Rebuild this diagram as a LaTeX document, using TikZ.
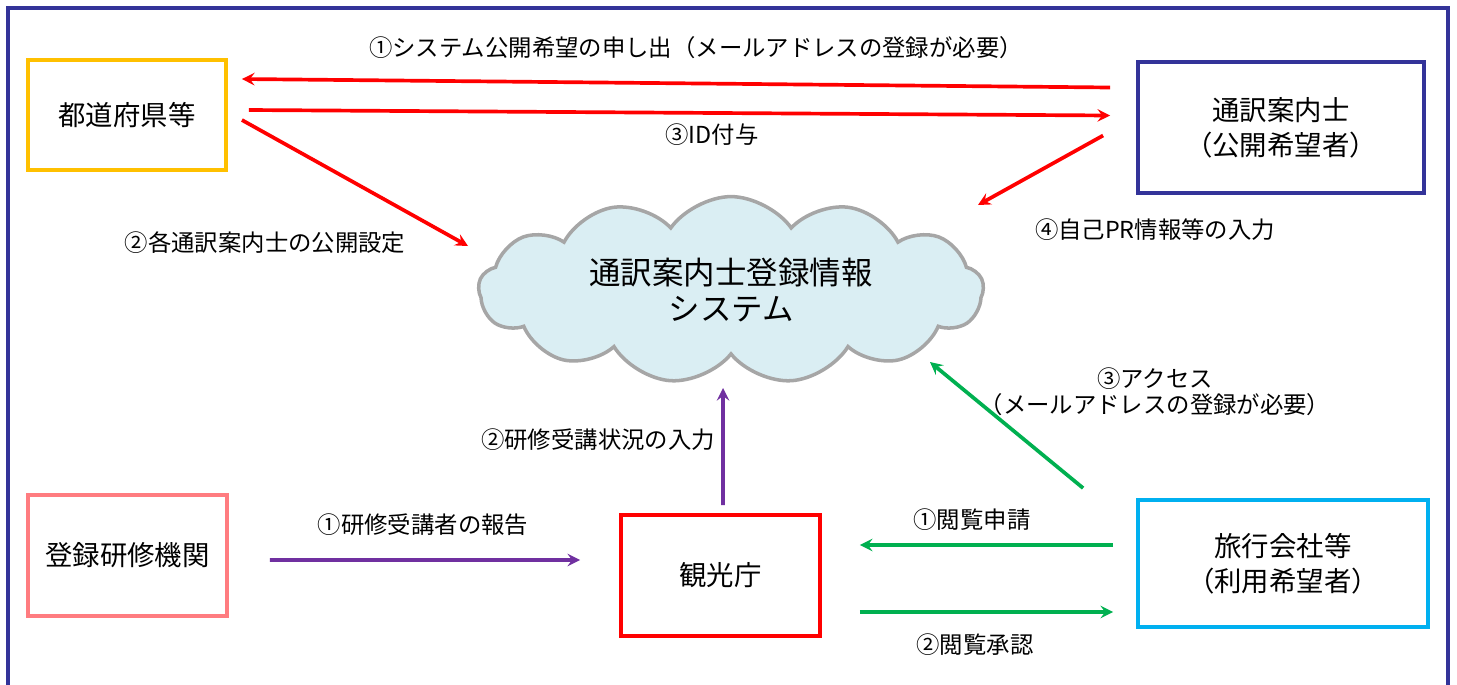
\documentclass[tikz,border=0pt]{standalone}
\usepackage{fontspec}
\setmainfont{Noto Sans CJK JP}
\usepackage{tikz}
\usetikzlibrary{shapes.symbols, arrows, calc}
\definecolor{framecol}{HTML}{333399}
\definecolor{prefcol}{HTML}{FFC000}
\definecolor{instcol}{HTML}{FF7C80}
\definecolor{agencycol}{HTML}{00B0F0}
\definecolor{cloudfill}{HTML}{DAEEF3}
\definecolor{cloudline}{HTML}{A6A6A6}
\definecolor{arrred}{HTML}{FF0000}
\definecolor{arrgreen}{HTML}{00B050}
\definecolor{arrpurple}{HTML}{7030A0}
\tikzstyle{unitbox} = [draw, line width=2.2pt, fill=white, align=center, inner sep=0pt, font=\fontsize{15.6}{20}\selectfont]
\tikzstyle{flow} = [line width=2.1pt,->,>=stealth]
\tikzstyle{lbl} = [inner sep=0pt, align=center, font=\fontsize{13.3}{15}\selectfont]

\begin{document}
\begin{tikzpicture}[x=0.02cm, y=-0.02cm]
\useasboundingbox (0,0) rectangle (1457,684);
\draw[framecol, line width=2pt] (8,8) rectangle (1448,700);
% boxes
\node[unitbox, draw=prefcol, minimum width=3.96cm, minimum height=2.2cm] (pref) at (127,115) {都道府県等};
\node[unitbox, draw=framecol, minimum width=5.72cm, minimum height=2.62cm] (guide) at (1281,127.5) {通訳案内士\\（公開希望者）};
\node[unitbox, draw=instcol, minimum width=3.98cm, minimum height=2.42cm] (inst) at (127.5,555.5) {登録研修機関};
\node[unitbox, draw=arrred, minimum width=3.98cm, minimum height=2.42cm] (jta) at (720.5,575.5) {観光庁};
\node[unitbox, draw=agencycol, minimum width=5.8cm, minimum height=2.54cm] (agency) at (1283,563.5) {旅行会社等\\（利用希望者）};
\node[cloud, cloud puffs=13, cloud puff arc=110, aspect=3, draw=cloudline, fill=cloudfill, line width=2pt, minimum width=10.1cm, minimum height=3.3cm, align=center, font=\fontsize{17.9}{21}\selectfont] (sys) at (731,290) {通訳案内士登録情報\\システム};
% red arrows
\draw[flow, arrred] ($(guide.west)+(-26,-40)$) -- ($(pref.east)+(14,-36)$);
\draw[flow, arrred] ($(pref.east)+(21,-5)$) -- ($(guide.west)+(-26,-12)$);
\draw[flow, arrred] ($(pref.east)+(14,5)$) -- ($(sys.center)+(-263,-44)$);
\draw[flow, arrred] ($(guide.west)+(-33,8)$) -- ($(sys.center)+(247,-85)$);
% green arrows
\draw[flow, arrgreen] ($(agency.north west)+(-53,-10)$) -- ($(sys.center)+(199,72)$);
\draw[flow, arrgreen] ($(agency.west)+(-23,-18.5)$) -- ($(jta.east)+(38,-30.5)$);
\draw[flow, arrgreen] ($(jta.east)+(38,36.5)$) -- ($(agency.west)+(-23,48.5)$);
% purple arrows
\draw[flow, arrpurple] ($(jta.north)+(2.5,-8)$) -- ($(sys.center)+(-8,98)$);
\draw[flow, arrpurple] ($(inst.east)+(41,4.5)$) -- ($(jta.west)+(-39,-15.5)$);
% labels
\node[lbl] (l1) at (696,48) {①システム公開希望の申し出（メールアドレスの登録が必要）};
\node[lbl] (l2) at (265,243) {②各通訳案内士の公開設定};
\node[lbl] (l3) at (712,135) {③ID付与};
\node[lbl] (l4) at (1155,230) {④自己PR情報等の入力};
\node[lbl] (l5) at (1155,392) {③アクセス\\（メールアドレスの登録が必要）};
\node[lbl] (l6) at (598,440) {②研修受講状況の入力};
\node[lbl] (l7) at (423,525) {①研修受講者の報告};
\node[lbl] (l8) at (972,520) {①閲覧申請};
\node[lbl] (l9) at (975,645) {②閲覧承認};
\end{tikzpicture}
\end{document}
